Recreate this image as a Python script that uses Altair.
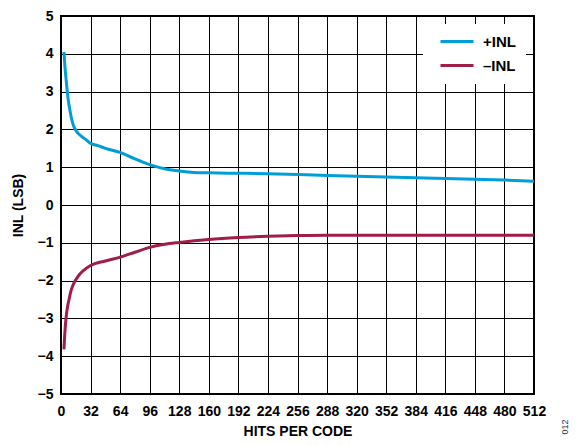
import altair as alt
import pandas as pd

pos_x = [3.2, 4, 5, 6, 6.8, 8, 9.7, 11, 12.5, 14, 16, 18, 20, 23, 26, 32, 40, 48, 64, 80, 96, 112, 128, 144, 160, 192, 224, 256, 288, 320, 352, 384, 416, 448, 480, 512]
pos_y = [4.05, 3.75, 3.45, 3.2, 3.0, 2.75, 2.5, 2.33, 2.18, 2.07, 1.98, 1.91, 1.86, 1.8, 1.75, 1.63, 1.57, 1.5, 1.39, 1.22, 1.07, 0.96, 0.9, 0.86, 0.85, 0.84, 0.83, 0.81, 0.78, 0.76, 0.74, 0.72, 0.70, 0.68, 0.66, 0.63]

neg_x = [3.2, 4, 5.4, 7, 8.7, 10.5, 12.5, 16, 20, 25, 32, 48, 64, 80, 96, 112, 128, 160, 192, 224, 256, 288, 320, 384, 448, 512]
neg_y = [-3.82, -3.45, -3.0, -2.7, -2.5, -2.3, -2.15, -1.98, -1.84, -1.72, -1.6, -1.48, -1.38, -1.25, -1.12, -1.04, -0.99, -0.91, -0.86, -0.83, -0.81, -0.8, -0.8, -0.8, -0.8, -0.8]

series = ["+INL", "\u2013INL"]
colors = ["#009ED9", "#A01C4A"]

df = pd.concat([
    pd.DataFrame({"x": pos_x, "y": pos_y, "s": series[0]}),
    pd.DataFrame({"x": neg_x, "y": neg_y, "s": series[1]}),
])

FONT = "Liberation Sans"

lines = alt.Chart(df).mark_line(strokeWidth=3, interpolate="monotone").encode(
    x=alt.X("x:Q", scale=alt.Scale(domain=[0, 512], nice=False),
            axis=alt.Axis(values=list(range(0, 513, 32)), title="HITS PER CODE",
                          titlePadding=6, labelOverlap=False, labelFlush=False)),
    y=alt.Y("y:Q", scale=alt.Scale(domain=[-5, 5], nice=False),
            axis=alt.Axis(values=list(range(-5, 6)), title="INL (LSB)",
                          titlePadding=12, labelOverlap=False, labelFlush=False)),
    color=alt.Color("s:N", scale=alt.Scale(domain=series, range=colors),
                    legend=alt.Legend(title=None, orient="none", legendX=362, legendY=8,
                                      fillColor="white", padding=10,
                                      symbolType="M0,0L6,0", symbolStrokeWidth=3,
                                      symbolSize=121, labelOffset=35,
                                      labelFontSize=15,
                                      labelFont=FONT, labelFontWeight="bold",
                                      labelColor="black", rowPadding=8)),
    detail="s:N",
)

note = alt.Chart(pd.DataFrame({"t": ["012"]})).mark_text(
    angle=270, fontSize=9, font=FONT, color="#333333"
).encode(x=alt.value(504), y=alt.value(411), text="t:N")

chart = alt.layer(lines, note).properties(
    width=473, height=378,
    autosize=alt.AutoSizeParams(type="none"),
    padding={"left": 53, "top": 8, "right": 45, "bottom": 43},
).configure_view(stroke="black", strokeWidth=2).configure_axis(
    grid=True, gridColor="black", gridOpacity=1, gridWidth=1,
    domain=False, ticks=False,
    labelFont=FONT, labelFontSize=14, labelFontWeight="bold", labelColor="black",
    titleFont=FONT, titleFontSize=14, titleFontWeight="bold", titleColor="black",
).configure_axisX(labelPadding=10).configure_axisY(labelPadding=8)

chart.save("out.html", embed_options={"renderer": "svg", "actions": False})
